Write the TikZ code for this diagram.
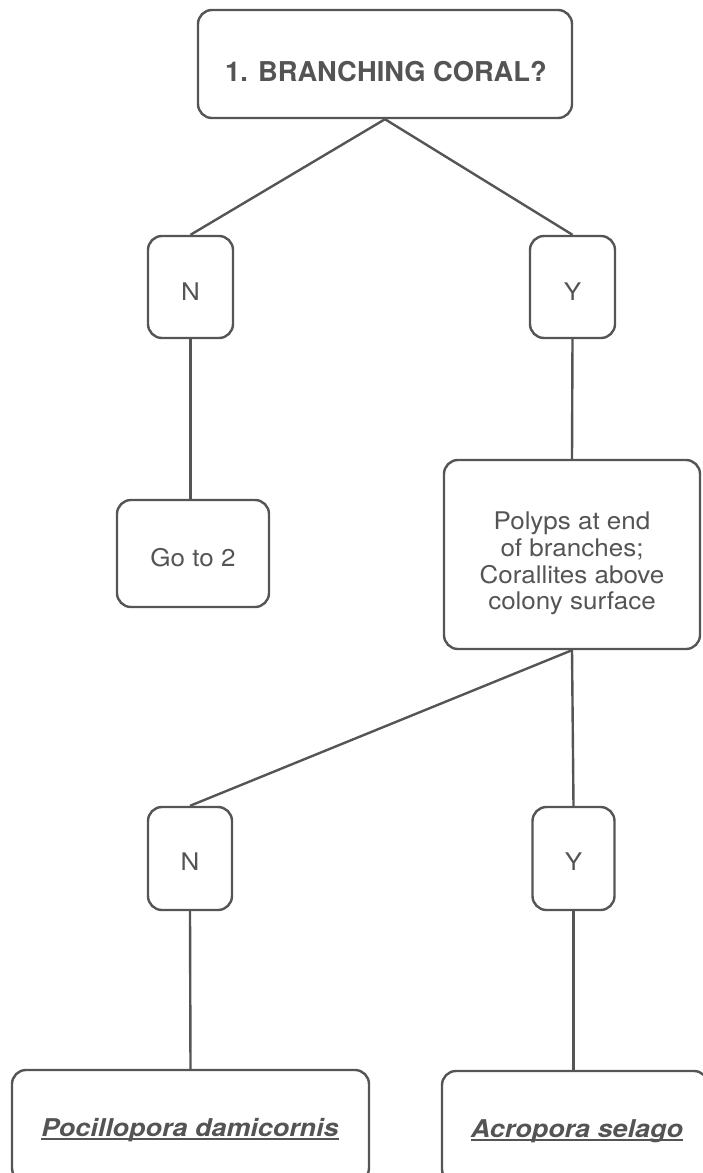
\documentclass[tikz,border=0pt]{standalone}
\usepackage{fontspec}
\setmainfont{TeX Gyre Heros}
\newfontfamily\regfont[FakeStretch=1.07]{TeX Gyre Heros}
\newfontfamily\spcfont[FakeStretch=1.1]{TeX Gyre Heros}
\definecolor{ln}{HTML}{555555}
\definecolor{tx}{HTML}{545454}
\newcommand\myul[1]{\setbox0\hbox{#1}\rlap{\rule[-3.6pt]{\wd0}{1.8pt}}\box0}
\begin{document}
\begin{tikzpicture}[x=1pt,y=-1pt,
  box/.style={draw=ln, line width=2.4pt, rounded corners=14pt, inner sep=0pt},
  conn/.style={draw=ln, line width=2.4pt},
  txt/.style={text=tx, inner sep=0pt, align=center, font=\regfont\fontsize{24.3}{26.8}\selectfont},
  ttl/.style={txt, font=\bfseries\fontsize{27.3}{30}\selectfont},
  spc/.style={txt, font=\spcfont\bfseries\itshape\fontsize{24.5}{30}\selectfont}]
\clip (0,0) rectangle (703,1173);
\useasboundingbox (0,0) rectangle (703,1173);
% boxes
\node[box, minimum width=374pt, minimum height=108pt] (top) at (385,64) {};
\node[box, minimum width=85pt, minimum height=102pt] (n1) at (190.5,287) {};
\node[box, minimum width=85pt, minimum height=102pt] (y1) at (572.5,287) {};
\node[box, minimum width=152pt, minimum height=107pt] (go2) at (193,553.5) {};
\node[box, minimum width=256pt, minimum height=189pt] (pol) at (572,554.5) {};
\node[box, minimum width=84pt, minimum height=103pt] (n2) at (190,858.5) {};
\node[box, minimum width=82pt, minimum height=103pt] (y2) at (573.5,858.5) {};
\node[box, minimum width=357pt, minimum height=112pt] (poc) at (190.5,1126) {};
\node[box, minimum width=266pt, minimum height=112pt] (acr) at (575,1127) {};
% texts
\node[ttl, anchor=base] (toptxt) at (386,81.7) {1. BRANCHING CORAL?};
\node[txt, anchor=base] (n1txt) at (190.5,300.7) {N};
\node[txt, anchor=base] (y1txt) at (572.5,300.7) {Y};
\node[txt, anchor=base] (go2txt) at (193,566.7) {Go to 2};
\node[txt, anchor=north] (poltxt) at (572,511.5) {Polyps at end\\of branches;\\Corallites above\\colony surface};
\node[txt, anchor=base] (n2txt) at (190,870.7) {N};
\node[txt, anchor=base] (y2txt) at (573.5,870.7) {Y};
\node[spc, anchor=base] (poctxt) at (190,1136) {\myul{Pocillopora damicornis}};
\node[spc, anchor=base] (acrtxt) at (577,1137) {\myul{Acropora selago}};
% connectors
\draw[conn] (top.south) -- (n1.north);
\draw[conn] (top.south) -- (y1.north);
\draw[conn] (n1.south) -- (n1.south |- go2.north);
\draw[conn] (y1.south) -- (pol.north);
\draw[conn] (pol.south) -- (n2.north);
\draw[conn] (pol.south) -- (y2.north);
\draw[conn] (n2.south) -- (poc.north);
\draw[conn] (y2.south) -- (y2.south |- acr.north);
\end{tikzpicture}
\end{document}
